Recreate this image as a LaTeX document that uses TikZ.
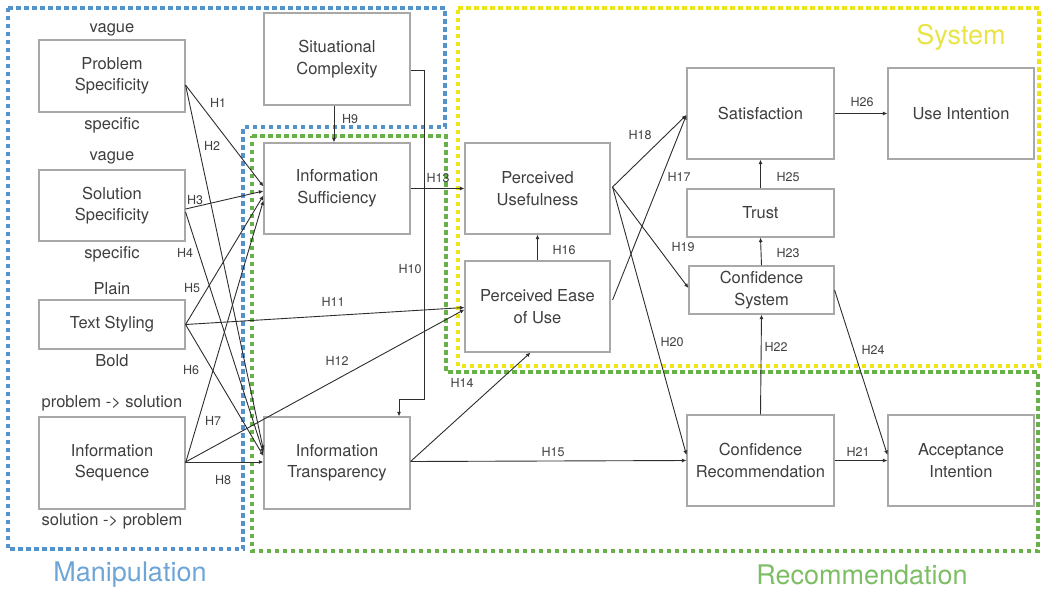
\documentclass[tikz,border=0pt]{standalone}
\usepackage{fontspec}
\setmainfont{TeX Gyre Heros}
\usetikzlibrary{arrows.meta}
\definecolor{boxline}{RGB}{168,168,168}
\definecolor{txt}{RGB}{62,62,62}
\definecolor{conn}{RGB}{45,45,45}
\definecolor{manip}{RGB}{84,146,204}
\definecolor{recom}{RGB}{104,176,72}
\definecolor{syst}{RGB}{238,230,20}
\definecolor{maniptext}{RGB}{110,165,215}
\definecolor{recomtext}{RGB}{125,190,100}
\definecolor{systtext}{RGB}{232,228,70}
\begin{document}
\begin{tikzpicture}[x=1pt,y=-1pt,
  box/.style={draw=boxline, line width=1.1pt, inner sep=0pt, align=center, text=txt,
    font=\fontsize{16.5}{21.5}\selectfont},
  lvl/.style={text=txt, font=\fontsize{16.5}{19}\selectfont, inner sep=0pt},
  hyp/.style={text=txt, font=\fontsize{12.5}{14}\selectfont, inner sep=0pt},
  link/.style={draw=conn, line width=0.9pt, -{Latex[length=4.5pt,width=4pt]}},
  region/.style={line width=3.2pt, dash pattern=on 4.5pt off 3.5pt},
  tag/.style={font=\fontsize{27}{30}\selectfont, inner sep=0pt}]
\useasboundingbox (0,0) rectangle (1044,592);

% grouping regions
\draw[region, manip] (8,8) -- (445,8) -- (445,127) -- (243,127) -- (243,549) -- (8,549) -- cycle;
\draw[region, recom] (252,136) -- (446,136) -- (446,372) -- (1038,372) -- (1038,551) -- (252,551) -- cycle;
\draw[region, syst] (458,8) -- (1039,8) -- (1039,366) -- (458,366) -- cycle;

\node[tag, text=maniptext] (lmanip) at (130,575) {Manipulation};
\node[tag, text=recomtext] (lrecom) at (862,575) {Recommendation};
\node[tag, text=systtext] (lsyst) at (961,37) {System};

% constructs
\node[box, minimum width=146pt, minimum height=72pt] (ps) at (112,76) {Problem\\Specificity};
\node[box, minimum width=146pt, minimum height=71pt] (ss) at (112,205.5) {Solution\\Specificity};
\node[box, minimum width=146pt, minimum height=49pt] (ts) at (112,324.5) {Text Styling};
\node[box, minimum width=146pt, minimum height=92pt] (is) at (112,463) {Information\\Sequence};
\node[box, minimum width=146pt, minimum height=92pt] (sc) at (337,59) {Situational\\Complexity};
\node[box, minimum width=146pt, minimum height=91pt] (isuf) at (337,188.5) {Information\\Sufficiency};
\node[box, minimum width=146pt, minimum height=92pt] (it) at (337,463) {Information\\Transparency};
\node[box, minimum width=145pt, minimum height=91pt] (pu) at (537.5,188.5) {Perceived\\Usefulness};
\node[box, minimum width=145pt, minimum height=91pt] (peu) at (537.5,306.5) {Perceived Ease\\of Use};
\node[box, minimum width=147pt, minimum height=91pt] (sat) at (760.5,113.5) {Satisfaction};
\node[box, minimum width=146pt, minimum height=91pt] (ui) at (961,113.5) {Use Intention};
\node[box, minimum width=147pt, minimum height=48pt] (trust) at (760.5,213) {Trust};
\node[box, minimum width=145pt, minimum height=48pt] (cs) at (761.5,290) {Confidence\\System};
\node[box, minimum width=147pt, minimum height=91pt] (cr) at (760.5,460.5) {Confidence\\Recommendation};
\node[box, minimum width=146pt, minimum height=91pt] (ai) at (961,460.5) {Acceptance\\Intention};

% manipulation levels
\node[lvl] (ps1) at (112,30) {vague};
\node[lvl] (ps2) at (112,125) {specific};
\node[lvl] (ss1) at (112,158) {vague};
\node[lvl] (ss2) at (112,254) {specific};
\node[lvl] (ts1) at (112,289) {Plain};
\node[lvl] (ts2) at (112,361) {Bold};
\node[lvl] (is1) at (112,403) {problem -> solution};
\node[lvl] (is2) at (112,521) {solution -> problem};

% hypotheses paths
\draw[link] ([yshift=-9pt]ps.east) -- ([yshift=2pt]isuf.west);
\draw[link] ([yshift=-9pt]ps.east) -- ([yshift=13pt]it.west);
\draw[link] ([yshift=-3.5pt]ss.east) -- ([yshift=-2.5pt]isuf.west);
\draw[link] ([yshift=-6.5pt]ss.east) -- ([yshift=10pt]it.west);
\draw[link] (ts.east) -- ([yshift=-7pt]isuf.west);
\draw[link] (ts.east) -- ([yshift=7pt]it.west);
\draw[link] (ts.east) -- ([yshift=-1pt]peu.west);
\draw[link] (is.east) -- ([yshift=-12pt]isuf.west);
\draw[link] ([yshift=1pt]is.east) -- ([yshift=1pt]it.west);
\draw[link] ([yshift=1pt]is.east) -- ([yshift=-3pt]peu.west);
\draw[link] ([xshift=-3pt]sc.south) -- ([xshift=-3pt]isuf.north);
\coordinate (h10a) at (424,70);
\coordinate (h10b) at (424,399);
\coordinate (h10c) at (399,399);
\draw[link] ([yshift=-11pt]sc.east) -- (h10a) -- (h10b) -- (h10c) -- ([xshift=62pt]it.north);
\draw[link] (isuf.east) -- (pu.west);
\draw[link] ([yshift=1.5pt]it.east) -- ([xshift=-7pt]peu.south);
\draw[link] ([yshift=1.5pt]it.east) -- (cr.west);
\draw[link] (peu.north) -- (pu.south);
\draw[link] ([xshift=2pt,yshift=6.5pt]peu.east) -- ([yshift=-1.5pt]sat.west);
\draw[link] ([xshift=2pt,yshift=1.5pt]pu.east) -- ([yshift=-1.5pt]sat.west);
\draw[link] ([xshift=2pt,yshift=1.5pt]pu.east) -- ([yshift=2pt]cs.west);
\draw[link] ([xshift=2pt,yshift=1.5pt]pu.east) -- ([yshift=5.5pt]cr.west);
\draw[link] (cr.east) -- (ai.west);
\draw[link] (cr.north) -- (cs.south);
\draw[link] (cs.north) -- (trust.south);
\draw[link] (cs.east) -- ([yshift=5.5pt]ai.west);
\draw[link] (trust.north) -- (sat.south);
\draw[link] (sat.east) -- (ui.west);

% hypothesis labels
\node[hyp] (h1) at (218,103) {H1};
\node[hyp] (h2) at (212,146) {H2};
\node[hyp] (h3) at (195,200) {H3};
\node[hyp] (h4) at (185,253) {H4};
\node[hyp] (h5) at (192,288) {H5};
\node[hyp] (h6) at (191,370) {H6};
\node[hyp] (h7) at (213,421) {H7};
\node[hyp] (h8) at (223,480) {H8};
\node[hyp] (h9) at (350,119) {H9};
\node[hyp] (h10) at (410,269) {H10};
\node[hyp] (h11) at (333,302) {H11};
\node[hyp] (h12) at (337,361) {H12};
\node[hyp] (h13) at (438,178) {H13};
\node[hyp] (h14) at (462,383) {H14};
\node[hyp] (h15) at (553,452) {H15};
\node[hyp] (h16) at (564,250) {H16};
\node[hyp] (h17) at (679,177) {H17};
\node[hyp] (h18) at (640,135) {H18};
\node[hyp] (h19) at (683,247) {H19};
\node[hyp] (h20) at (672,342) {H20};
\node[hyp] (h21) at (858,452) {H21};
\node[hyp] (h22) at (776,347) {H22};
\node[hyp] (h23) at (788,253) {H23};
\node[hyp] (h24) at (873,350) {H24};
\node[hyp] (h25) at (788,177) {H25};
\node[hyp] (h26) at (862,102) {H26};
\end{tikzpicture}
\end{document}
